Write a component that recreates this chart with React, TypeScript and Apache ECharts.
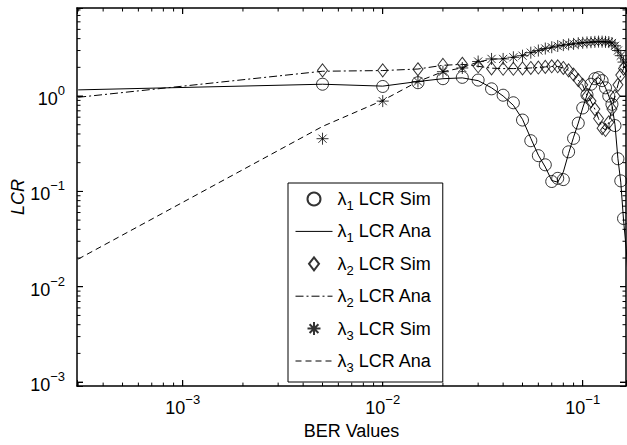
import React, { useEffect, useRef } from "react";
import * as echarts from "echarts";

// ---------- data ----------
const xSim = [
  0.005, 0.01, 0.015, 0.02, 0.025, 0.03, 0.035, 0.04, 0.045, 0.05, 0.055, 0.06,
  0.065, 0.07, 0.075, 0.08, 0.085, 0.09, 0.095, 0.1, 0.105, 0.11, 0.115, 0.12,
  0.125, 0.13, 0.135, 0.14, 0.145, 0.15, 0.155, 0.16,
];
const lcr1Sim = [
  1.33, 1.26, 1.38, 1.52, 1.57, 1.47, 1.19, 1.02, 0.85, 0.56, 0.34, 0.237,
  0.19, 0.127, 0.137, 0.133, 0.26, 0.36, 0.52, 0.75, 1.03, 1.33, 1.52, 1.56,
  1.45, 1.22, 1.0, 0.82, 0.49, 0.22, 0.129, 0.052,
];
const lcr2Sim = [
  1.86, 1.86, 1.91, 2.12, 2.18, 2.05, 1.95, 1.93, 1.93, 1.95, 1.97, 1.99,
  2.02, 2.05, 2.05, 1.97, 1.86, 1.68, 1.47, 1.31, 1.0, 0.885, 0.73, 0.58,
  0.46, 0.44, 0.53, 0.73, 1.0, 1.31, 1.66, 1.94,
];
const lcr3Sim = [
  0.357, 0.885, 1.42, 1.8, 1.97, 2.3, 2.45, 2.45, 2.55, 2.65, 2.85, 3.0,
  3.15, 3.25, 3.35, 3.42, 3.48, 3.52, 3.58, 3.62, 3.65, 3.67, 3.7, 3.72,
  3.72, 3.7, 3.68, 3.6, 3.36, 3.0, 2.65, 2.27,
];

const xAna = [
  0.0003, 0.005, 0.01, 0.015, 0.02, 0.025, 0.03, 0.035, 0.04, 0.045, 0.05, 0.055,
  0.06, 0.065, 0.07, 0.075, 0.08, 0.085, 0.09, 0.095, 0.1, 0.105, 0.11, 0.115,
  0.12, 0.125, 0.13, 0.135, 0.14, 0.145, 0.15, 0.155, 0.16, 0.165, 0.17,
];
const lcr1Ana = [
  1.16, 1.33, 1.27, 1.42, 1.52, 1.55, 1.45, 1.22, 1.0, 0.8, 0.57, 0.36,
  0.24, 0.18, 0.13, 0.125, 0.16, 0.25, 0.37, 0.52, 0.75, 1.02, 1.3, 1.5,
  1.56, 1.45, 1.22, 1.0, 0.8, 0.5, 0.22, 0.125, 0.05, 0.025, 0.01,
];
const lcr2Ana = [
  0.97, 1.82, 1.85, 1.92, 2.1, 2.15, 2.05, 1.96, 1.94, 1.94, 1.95, 1.97,
  1.99, 2.02, 2.04, 2.04, 1.97, 1.86, 1.68, 1.47, 1.3, 1.02, 0.88, 0.73,
  0.58, 0.47, 0.44, 0.53, 0.73, 1.0, 1.31, 1.66, 1.94, 2.2, 2.5,
];
const lcr3Ana = [
  0.0195, 0.48, 0.9, 1.42, 1.8, 1.98, 2.28, 2.43, 2.47, 2.55, 2.67, 2.85,
  3.0, 3.14, 3.25, 3.34, 3.42, 3.48, 3.53, 3.58, 3.62, 3.65, 3.67, 3.7,
  3.72, 3.72, 3.7, 3.67, 3.6, 3.37, 3.0, 2.65, 2.27, 1.9, 1.5,
];

const seriesNames = [
  "λ1 LCR Sim",
  "λ1 LCR Ana",
  "λ2 LCR Sim",
  "λ2 LCR Ana",
  "λ3 LCR Sim",
  "λ3 LCR Ana",
];

const xMajorTicks = [0.001, 0.01, 0.1];
const yMajorTicks = [0.001, 0.01, 0.1, 1];
const xRange = [0.000296, 0.1646];
const yRange = [0.000908, 8.38];

// ---------- helpers ----------
const FONT = "'Liberation Sans', Arial, Helvetica, sans-serif";

function minorTicks(lo: number, hi: number): number[] {
  const out: number[] = [];
  for (let e = -5; e <= 1; e++) {
    for (let m = 2; m <= 9; m++) {
      const v = Number((m * Math.pow(10, e)).toPrecision(6));
      if (v > lo && v < hi) out.push(v);
    }
  }
  return out;
}

const xMinorTicks = minorTicks(xRange[0], xRange[1]);
const yMinorTicks = minorTicks(yRange[0], yRange[1]);

function supFormatter(v: number): string {
  const e = Math.round(Math.log10(v));
  const s = e < 0 ? "\u2212" + String(-e) : String(e);
  return "{b|10}{s|" + s + "}";
}

const supRich = {
  b: { fontSize: 18, lineHeight: 24, verticalAlign: "bottom", fontFamily: FONT, color: "#000" },
  s: { fontSize: 13, lineHeight: 24, verticalAlign: "top", fontFamily: FONT, color: "#000" },
};

const frameLine = { show: true, onZero: false, lineStyle: { color: "#000", width: 1.5 } };
const majorTick = { show: true, inside: true, length: 6, lineStyle: { color: "#000", width: 1 } };

const MAJOR_LEN = 6;
const MINOR_LEN = 3.5;

const markerStyle = { color: "rgba(0,0,0,0)", borderColor: "#000", borderWidth: 1 };
const STAR = "path://M5,0L5,10M0,5L10,5M1.6,1.6L8.4,8.4M8.4,1.6L1.6,8.4";
const DIAMOND = "path://M5,0L10,6.5L5,13L0,6.5Z";

function pairs(xs: number[], ys: number[]) {
  return xs.map((x, i) => [x, ys[i]]);
}

function buildOption() {
  const baseAxis = { type: "log", splitLine: { show: false }, silent: true, axisTick: majorTick };
  return {
    animation: false,
    backgroundColor: "#fff",
    textStyle: { fontFamily: FONT, color: "#000" },
    grid: { left: 77, right: 1, top: 8, bottom: 50 },
    xAxis: [
      {
        ...baseAxis,
        min: xRange[0],
        max: xRange[1],
        position: "bottom",
        axisLine: frameLine,
        axisLabel: { show: true, customValues: xMajorTicks, formatter: supFormatter, rich: supRich, margin: 7 },
        name: "BER Values",
        nameLocation: "middle",
        nameGap: 21,
        nameTextStyle: { fontSize: 18, color: "#000", fontFamily: FONT },
      },
      {
        ...baseAxis,
        min: xRange[0],
        max: xRange[1],
        position: "top",
        axisLine: frameLine,
        axisLabel: { show: false },
      },
    ],
    yAxis: [
      {
        ...baseAxis,
        min: yRange[0],
        max: yRange[1],
        position: "left",
        axisLine: frameLine,
        axisLabel: { show: true, customValues: yMajorTicks, formatter: supFormatter, rich: supRich, margin: 12 },
        name: "LCR",
        nameLocation: "middle",
        nameGap: 50,
        nameMoveOverlap: false,
        nameTextStyle: { fontSize: 18, fontStyle: "italic", color: "#000", fontFamily: FONT },
      },
      {
        ...baseAxis,
        min: yRange[0],
        max: yRange[1],
        position: "right",
        axisLine: frameLine,
        axisLabel: { show: false },
      },
    ],
    legend: {
      show: true,
      orient: "vertical",
      left: 288,
      top: 183,
      padding: [7, 11, 8, 7],
      itemGap: 10.4,
      itemWidth: 37,
      itemHeight: 13,
      symbolKeepAspect: true,
      borderColor: "#000",
      borderWidth: 1,
      borderRadius: 0,
      backgroundColor: "#fff",
      selectedMode: false,
      lineStyle: { width: 1 },
      data: seriesNames,
      formatter: (name: string) => {
        const m = name.match(/^λ(\d) (.*)$/);
        if (!m) return name;
        return "{a|λ}{s|" + m[1] + "}{t| " + m[2] + "}";
      },
      textStyle: {
        color: "#000",
        fontFamily: FONT,
        fontSize: 18,
        rich: {
          a: { fontSize: 18, lineHeight: 26, fontFamily: FONT, color: "#000" },
          s: { fontSize: 13, lineHeight: 26, verticalAlign: "bottom", fontFamily: FONT, color: "#000" },
          t: { fontSize: 18, lineHeight: 26, fontFamily: FONT, color: "#000" },
        },
      },
    },
    series: [
      {
        name: seriesNames[0],
        type: "scatter",
        symbol: "circle",
        symbolSize: 12,
        itemStyle: markerStyle,
        data: pairs(xSim, lcr1Sim),
        silent: true,
        z: 3,
      },
      {
        name: seriesNames[1],
        type: "line",
        symbol: "none",
        showSymbol: false,
        lineStyle: { color: "#000", width: 1, type: "solid" },
        itemStyle: { color: "rgba(0,0,0,0)", borderWidth: 0 },
        data: pairs(xAna, lcr1Ana),
        silent: true,
        z: 3,
      },
      {
        name: seriesNames[2],
        type: "scatter",
        symbol: DIAMOND,
        symbolSize: [10, 13],
        itemStyle: markerStyle,
        data: pairs(xSim, lcr2Sim),
        silent: true,
        z: 3,
      },
      {
        name: seriesNames[3],
        type: "line",
        symbol: "none",
        showSymbol: false,
        lineStyle: { color: "#000", width: 1, type: [8, 3, 2, 3] },
        itemStyle: { color: "rgba(0,0,0,0)", borderWidth: 0 },
        data: pairs(xAna, lcr2Ana),
        silent: true,
        z: 3,
      },
      {
        name: seriesNames[4],
        type: "scatter",
        symbol: STAR,
        symbolSize: 12,
        itemStyle: markerStyle,
        data: pairs(xSim, lcr3Sim),
        silent: true,
        z: 3,
      },
      {
        name: seriesNames[5],
        type: "line",
        symbol: "none",
        showSymbol: false,
        lineStyle: { color: "#000", width: 1, type: [6, 4] },
        itemStyle: { color: "rgba(0,0,0,0)", borderWidth: 0 },
        data: pairs(xAna, lcr3Ana),
        silent: true,
        z: 3,
      },
    ],
  };
}

// Minor tick marks, positioned through the chart's own log scales.
function tickLine(x1: number, y1: number, x2: number, y2: number) {
  return {
    type: "line",
    shape: { x1: x1, y1: y1, x2: x2, y2: y2 },
    style: { stroke: "#000", lineWidth: 1 },
  };
}

function buildTickGraphics(chart: any) {
  const finder = { gridIndex: 0 };
  const els: any[] = [];
  const addX = (v: number, len: number) => {
    const pb = chart.convertToPixel(finder, [v, yRange[0]]);
    const pt = chart.convertToPixel(finder, [v, yRange[1]]);
    if (!pb || !pt) return;
    els.push(tickLine(pb[0], pb[1], pb[0], pb[1] - len));
    els.push(tickLine(pt[0], pt[1], pt[0], pt[1] + len));
  };
  const addY = (v: number, len: number) => {
    const pl = chart.convertToPixel(finder, [xRange[0], v]);
    const pr = chart.convertToPixel(finder, [xRange[1], v]);
    if (!pl || !pr) return;
    els.push(tickLine(pl[0], pl[1], pl[0] + len, pl[1]));
    els.push(tickLine(pr[0], pr[1], pr[0] - len, pr[1]));
  };
  xMajorTicks.forEach((v) => addX(v, MAJOR_LEN));
  xMinorTicks.forEach((v) => addX(v, MINOR_LEN));
  yMajorTicks.forEach((v) => addY(v, MAJOR_LEN));
  yMinorTicks.forEach((v) => addY(v, MINOR_LEN));
  return els;
}

export default function App() {
  const ref = useRef<HTMLDivElement>(null);
  useEffect(() => {
    if (!ref.current) return;
    const chart = echarts.init(ref.current, null, { renderer: "svg" });
    try {
      chart.setOption(buildOption() as any);
    } catch (e) {
      // keep going so the tick graphics are still attempted
    }
    try {
      chart.setOption({ graphic: { elements: buildTickGraphics(chart) } } as any);
    } catch (e) {
      // ignore
    }
    return () => chart.dispose();
  }, []);
  return (
    <div
      ref={ref}
      style={{ position: "absolute", left: 0, top: 0, width: 627, height: 445, background: "#fff" }}
    />
  );
}
